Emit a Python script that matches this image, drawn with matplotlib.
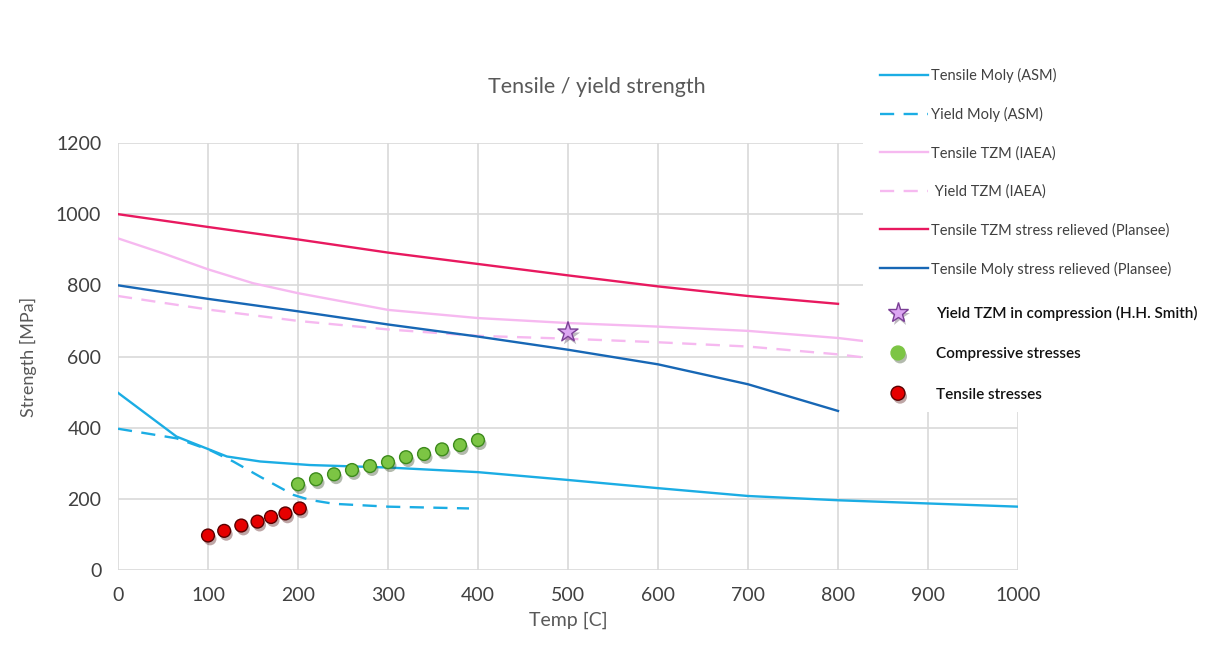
import numpy as np
import matplotlib
matplotlib.use("Agg")
import matplotlib.pyplot as plt
import matplotlib.patheffects as pe
from matplotlib.lines import Line2D
from matplotlib.patches import Rectangle

plt.rcParams['font.family'] = ['Lato', 'DejaVu Sans']

# Tensile Moly (ASM)
t_moly_asm = [0, 28, 65, 98, 121, 158, 213, 300, 400, 500, 600, 700, 800, 900, 1000]
s_moly_asm = [498, 445, 375, 342, 319, 305, 295, 288, 275, 253, 230, 208, 196, 187, 178]

# Yield Moly (ASM)
t_ymoly_asm = [0, 65, 102, 128, 158, 195, 213, 240, 300, 390]
s_ymoly_asm = [397, 370, 337, 305, 262, 211, 197, 186, 178, 173]

# Tensile TZM (IAEA)
t_tzm_iaea = [0, 50, 100, 150, 200, 300, 400, 500, 600, 700, 800, 830]
s_tzm_iaea = [932, 890, 845, 806, 778, 731, 708, 694, 684, 672, 652, 643]

# Yield TZM (IAEA)
t_ytzm_iaea = [0, 100, 200, 300, 400, 500, 600, 700, 800, 830]
s_ytzm_iaea = [770, 732, 700, 676, 658, 650, 640, 628, 606, 597]

# Plansee stress relieved
t_plansee = [0, 100, 200, 300, 400, 500, 600, 700, 800]
s_tzm_plansee = [1000, 964, 929, 892, 860, 828, 797, 770, 748]
s_moly_plansee = [800, 762, 727, 690, 656, 619, 578, 522, 447]

# H.H. Smith compression yield
t_smith = [500]
s_smith = [668]

# compressive / tensile stresses
t_comp = [200, 220, 240, 260, 280, 300, 320, 340, 360, 380, 400]
s_comp = [241, 255, 269, 281, 292, 303, 317, 326, 339, 351, 365]
t_tens = [100, 118, 137, 155, 170, 186, 202]
s_tens = [97, 110, 125, 136, 149, 159, 173]

c_asm = '#1badE4'
c_tzm_light = '#f6b9f0'
c_tzm_plansee = '#e8195f'
c_moly_plansee = '#1767b5'
dash = (0, (6, 4))

fig = plt.figure(figsize=(12.13, 6.55), dpi=100)
ax = fig.add_axes([118/1213, 1 - 570/655, 900/1213, 427/655])

ax.plot(t_moly_asm, s_moly_asm, color=c_asm, lw=1.7)
ax.plot(t_ymoly_asm, s_ymoly_asm, color=c_asm, lw=1.7, ls=dash)
ax.plot(t_tzm_iaea, s_tzm_iaea, color=c_tzm_light, lw=1.7)
ax.plot(t_ytzm_iaea, s_ytzm_iaea, color=c_tzm_light, lw=1.7, ls=dash)
ax.plot(t_plansee, s_tzm_plansee, color=c_tzm_plansee, lw=1.7)
ax.plot(t_plansee, s_moly_plansee, color=c_moly_plansee, lw=1.7)

shadow = [pe.SimplePatchShadow(offset=(1.5, -2.5), alpha=0.35), pe.Normal()]
ax.scatter(t_comp, s_comp, s=85, color='#7cc544', edgecolor='#3d8a1c', lw=1, zorder=5, path_effects=shadow)
ax.scatter(t_tens, s_tens, s=85, color='#e60000', edgecolor='#5a0000', lw=1, zorder=5, path_effects=shadow)
ax.scatter(t_smith, s_smith, s=230, marker='*', color='#dca6f2', edgecolor='#7b3f96', lw=1, zorder=5, path_effects=shadow)

ax.set_xlim(0, 1000)
ax.set_ylim(0, 1200)
ax.set_xticks(np.arange(0, 1001, 100))
ax.set_yticks(np.arange(0, 1201, 200))
ax.grid(True, color='#d9d9d9', lw=1.2)
ax.set_axisbelow(True)
for sp in ax.spines.values():
    sp.set_visible(False)
ax.tick_params(length=0, labelsize=14, colors='#404040', pad=12)
ax.set_xlabel('Temp [C]', fontsize=14, color='#595959', labelpad=6)
ax.set_ylabel('Strength [MPa]', fontsize=13, color='#595959', labelpad=14)
fig.text(597/1213, 1 - 87/655, 'Tensile / yield strength', fontsize=15.5, color='#595959',
         ha='center', va='center')

# white panel for the legend that sits over the plot
fig.patches.append(Rectangle((863/1213, 1 - 412/655), 350/1213, 360/655,
                             transform=fig.transFigure, facecolor='white',
                             edgecolor='none', zorder=3))

line_handles = [
    Line2D([], [], color=c_asm, lw=1.7),
    Line2D([], [], color=c_asm, lw=1.7, ls=dash),
    Line2D([], [], color=c_tzm_light, lw=1.7),
    Line2D([], [], color=c_tzm_light, lw=1.7, ls=dash),
    Line2D([], [], color=c_tzm_plansee, lw=1.7),
    Line2D([], [], color=c_moly_plansee, lw=1.7),
]
line_labels = ['Tensile Moly (ASM)', 'Yield Moly (ASM)', 'Tensile TZM (IAEA)',
               ' Yield TZM (IAEA)', 'Tensile TZM stress relieved (Plansee)',
               'Tensile Moly stress relieved (Plansee)']
leg1 = fig.legend(line_handles, line_labels, loc='upper left',
                  bbox_to_anchor=(880/1213, 1 - 68/655), frameon=False,
                  fontsize=10.5, handlelength=3.3, handletextpad=0.2,
                  labelspacing=1.65, borderpad=0, borderaxespad=0)
for t in leg1.get_texts():
    t.set_color('#404040')
leg1.set_zorder(6)

mark_handles = [
    Line2D([], [], ls='none', marker='*', markersize=15, markerfacecolor='#dca6f2',
           markeredgecolor='#7b3f96', path_effects=shadow),
    Line2D([], [], ls='none', marker='o', markersize=10, markerfacecolor='#7cc544',
           markeredgecolor='#7cc544', path_effects=shadow),
    Line2D([], [], ls='none', marker='o', markersize=10, markerfacecolor='#e60000',
           markeredgecolor='#5a0000', path_effects=shadow),
]
mark_labels = ['Yield TZM in compression (H.H. Smith)', 'Compressive stresses', 'Tensile stresses']
leg2 = fig.legend(mark_handles, mark_labels, loc='upper left',
                  bbox_to_anchor=(884/1213, 1 - 306/655), frameon=False,
                  prop={'size': 11, 'weight': 'semibold'}, handlelength=1.83,
                  handletextpad=1.57, labelspacing=1.72, borderpad=0, borderaxespad=0)
for t in leg2.get_texts():
    t.set_color('#111111')
leg2.set_zorder(6)

fig.savefig('out.png', dpi=100, facecolor='white')
